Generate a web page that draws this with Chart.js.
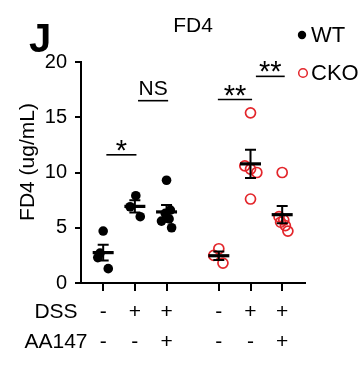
<!DOCTYPE html>
<html><head><meta charset="utf-8">
<script src="https://cdn.jsdelivr.net/npm/chart.js@4/dist/chart.umd.min.js"></script>
<style>html,body{margin:0;padding:0;background:#fff}</style>
</head><body>
<canvas id="c" width="363" height="370"></canvas>
<script>
// ---- data ----
const categories = ['WT DSS- AA147-','WT DSS+ AA147-','WT DSS+ AA147+','CKO DSS- AA147-','CKO DSS+ AA147-','CKO DSS+ AA147+'];
const genotype = ['WT','WT','WT','CKO','CKO','CKO'];
const groupPos = [1, 2, 3, 4.65, 5.65, 6.65];
const dssLabels = ['-','+','+','-','+','+'];
const aa147Labels = ['-','-','+','-','-','+'];
const yTicks = [0, 5, 10, 15, 20];

const g1Values = [4.7, 2.7, 2.3, 1.3];
const g1Jitter = [0.0, -0.10, -0.17, 0.16];
const g2Values = [7.9, 6.9, 6.0];
const g2Jitter = [0.03, -0.15, 0.17];
const g3Values = [9.3, 6.6, 6.3, 5.8, 5.6, 5.0];
const g3Jitter = [0.0, 0.12, -0.04, 0.08, -0.16, 0.16];
const g4Values = [3.1, 2.5, 1.8];
const g4Jitter = [0.0, -0.16, 0.13];
const g5Values = [15.4, 10.6, 10.3, 10.0, 7.6];
const g5Jitter = [0.0, -0.18, 0.0, 0.2, 0.0];
const g6Values = [10.0, 6.0, 5.7, 5.5, 5.2, 4.7];
const g6Jitter = [0.0, -0.1, 0.05, -0.05, 0.1, 0.18];

const sigLabels = ['*', 'NS', '**', '**'];
const sigFrom = [1.1, 2.1, 4.62, 5.82];
const sigTo = [2.05, 3.05, 5.7, 6.73];
const sigY = [11.6, 16.5, 16.6, 18.7];

const groupValues = [g1Values, g2Values, g3Values, g4Values, g5Values, g6Values];
const groupJitter = [g1Jitter, g2Jitter, g3Jitter, g4Jitter, g5Jitter, g6Jitter];

const RED = '#e3262b';
const FONT = "'Liberation Sans', Arial, sans-serif";

function pointsFor(geno) {
  const pts = [];
  groupValues.forEach((vals, gi) => {
    if (genotype[gi] !== geno) return;
    vals.forEach((v, i) => pts.push({x: groupPos[gi] + groupJitter[gi][i], y: v}));
  });
  return pts;
}

function mean(a) { return a.reduce((s, v) => s + v, 0) / a.length; }
function sem(a) {
  const m = mean(a);
  const sd = Math.sqrt(a.reduce((s, v) => s + (v - m) * (v - m), 0) / (a.length - 1));
  return sd / Math.sqrt(a.length);
}

const overlay = {
  id: 'overlay',
  afterDatasetsDraw(chart) {
    const ctx = chart.ctx, xs = chart.scales.x, ys = chart.scales.y;
    ctx.save();
    ctx.strokeStyle = '#000';
    // mean and SEM
    groupValues.forEach((vals, gi) => {
      const m = mean(vals), e = sem(vals);
      const px = xs.getPixelForValue(groupPos[gi]);
      const pm = ys.getPixelForValue(m);
      const pt = ys.getPixelForValue(m + e), pb = ys.getPixelForValue(m - e);
      ctx.lineWidth = 2;
      ctx.beginPath();
      ctx.moveTo(px, pt); ctx.lineTo(px, pb);
      ctx.moveTo(px - 5.5, pt); ctx.lineTo(px + 5.5, pt);
      ctx.moveTo(px - 5.5, pb); ctx.lineTo(px + 5.5, pb);
      ctx.stroke();
      ctx.lineWidth = 3.2;
      ctx.beginPath();
      ctx.moveTo(px - 10.5, pm); ctx.lineTo(px + 10.5, pm);
      ctx.stroke();
    });
    // significance
    ctx.fillStyle = '#000';
    ctx.textAlign = 'center';
    ctx.textBaseline = 'alphabetic';
    sigLabels.forEach((t, i) => {
      const x1 = xs.getPixelForValue(sigFrom[i]), x2 = xs.getPixelForValue(sigTo[i]);
      const py = ys.getPixelForValue(sigY[i]);
      ctx.lineWidth = 1.6;
      ctx.beginPath(); ctx.moveTo(x1, py); ctx.lineTo(x2, py); ctx.stroke();
      if (t === 'NS') {
        ctx.font = '21px ' + FONT;
        ctx.fillText(t, (x1 + x2) / 2, py - 6);
      } else {
        ctx.font = '29px ' + FONT;
        ctx.fillText(t, (x1 + x2) / 2, py + 5);
      }
    });
    ctx.restore();
  },
  afterDraw(chart) {
    const ctx = chart.ctx;
    ctx.save();
    ctx.fillStyle = '#000';
    // title
    ctx.font = '21px ' + FONT;
    ctx.textAlign = 'center'; ctx.textBaseline = 'alphabetic';
    ctx.fillText('FD4', 193, 32);
    // panel letter
    ctx.font = "bold 40px 'Liberation Sans Narrow', 'Liberation Sans', Arial, sans-serif";
    ctx.textAlign = 'left';
    ctx.fillText('J', 29, 52);
    // legend
    ctx.font = '22px ' + FONT;
    ctx.textBaseline = 'middle';
    ctx.beginPath(); ctx.arc(302, 35, 4.2, 0, Math.PI * 2); ctx.fill();
    ctx.fillText('WT', 311, 36);
    ctx.strokeStyle = RED; ctx.lineWidth = 1.5;
    ctx.beginPath(); ctx.arc(303, 73, 4.3, 0, Math.PI * 2); ctx.stroke();
    ctx.fillText('CKO', 311, 74);
    // row labels
    ctx.font = '21px ' + FONT;
    ctx.textAlign = 'center';
    ctx.fillText('DSS', 56, 312);
    ctx.fillText('AA147', 56, 342);
    // y title
    ctx.translate(28, 162);
    ctx.rotate(-Math.PI / 2);
    ctx.font = '21px ' + FONT;
    ctx.fillText('FD4 (ug/mL)', 0, 0);
    ctx.restore();
  }
};

new Chart(document.getElementById('c'), {
  type: 'scatter',
  data: {
    datasets: [
      { label: 'WT', data: pointsFor('WT'), pointRadius: 4.8, pointBackgroundColor: '#000', pointBorderColor: '#000', pointBorderWidth: 0, clip: false },
      { label: 'CKO', data: pointsFor('CKO'), pointRadius: 5, pointBackgroundColor: 'rgba(0,0,0,0)', pointBorderColor: RED, pointBorderWidth: 1.7, clip: false }
    ]
  },
  options: {
    responsive: false,
    animation: false,
    events: [],
    layout: { padding: { top: 62, right: 58, left: 0, bottom: 0 } },
    plugins: { legend: { display: false }, tooltip: { enabled: false }, title: { display: false } },
    scales: {
      x: {
        type: 'linear', min: 0.3, max: 7.37,
        afterFit(s) { s.height = 87; },
        afterBuildTicks(s) { s.ticks = groupPos.map(v => ({ value: v })); },
        ticks: {
          autoSkip: false, maxRotation: 0, padding: 6, color: '#000',
          font: { family: FONT, size: 21, lineHeight: 1.43 },
          callback: (v, i) => [dssLabels[i], aa147Labels[i]]
        },
        grid: { drawOnChartArea: false, drawTicks: true, tickLength: 8, color: '#000', lineWidth: 2 },
        border: { display: true, color: '#000', width: 2 }
      },
      y: {
        min: 0, max: 20,
        afterFit(s) { s.width = 81; },
        afterBuildTicks(s) { s.ticks = yTicks.map(v => ({ value: v })); },
        ticks: { padding: 8, color: '#000', font: { family: FONT, size: 20 } },
        grid: { drawOnChartArea: false, drawTicks: true, tickLength: 6, color: '#000', lineWidth: 2 },
        border: { display: true, color: '#000', width: 2 }
      }
    }
  },
  plugins: [overlay]
});
</script>
</body></html>
